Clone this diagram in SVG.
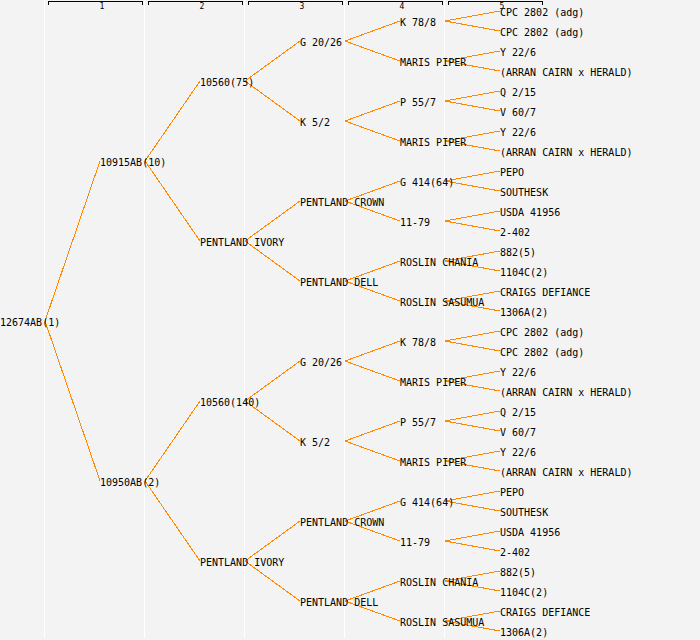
<svg xmlns="http://www.w3.org/2000/svg" width="700" height="640" viewBox="0 0 700 640">
<style>
.bg{fill:#f3f3f3}
.sep{stroke:#ffffff;stroke-width:1;fill:none}
.brk{stroke:#000;stroke-width:1;fill:none;shape-rendering:crispEdges}
.num{font-family:"DejaVu Sans Mono","Liberation Mono",monospace;font-size:8px;fill:#000;text-anchor:middle}
.lbl{font-family:"DejaVu Sans Mono","Liberation Mono",monospace;font-size:10px;fill:#000}
.con{stroke:#ff8800;stroke-width:1;fill:none;shape-rendering:crispEdges}
</style>
<rect class="bg" x="0" y="0" width="700" height="640"/>
<g id="grid">
<path class="sep" d="M44.5,0V638M144.5,0V638M244.5,0V638M344.5,0V638M444.5,0V638"/>
<path class="brk" d="M48.5,4.5V1.5H142.5V4.5M148.5,4.5V1.5H242.5V4.5M248.5,4.5V1.5H342.5V4.5M348.5,4.5V1.5H442.5V4.5M448.5,4.5V1.5H542.5V4.5"/>
<text class="num" x="102" y="9">1</text>
<text class="num" x="202" y="9">2</text>
<text class="num" x="302" y="9">3</text>
<text class="num" x="402" y="9">4</text>
<text class="num" x="502" y="9">5</text>
</g>
<g id="connectors" class="con">
<path d="M45,321L100,161M45,321L100,481"/>
<path d="M145,161L200,81M145,161L200,241M145,481L200,401M145,481L200,561"/>
<path d="M245,81L300,41M245,81L300,121M245,241L300,201M245,241L300,281M245,401L300,361M245,401L300,441M245,561L300,521M245,561L300,601"/>
<path d="M345,41L400,21M345,41L400,61M345,121L400,101M345,121L400,141M345,201L400,181M345,201L400,221M345,281L400,261M345,281L400,301M345,361L400,341M345,361L400,381M345,441L400,421M345,441L400,461M345,521L400,501M345,521L400,541M345,601L400,581M345,601L400,621"/>
<path d="M445,21L500,11M445,21L500,31M445,61L500,51M445,61L500,71M445,101L500,91M445,101L500,111M445,141L500,131M445,141L500,151M445,181L500,171M445,181L500,191M445,221L500,211M445,221L500,231M445,261L500,251M445,261L500,271M445,301L500,291M445,301L500,311"/>
<path d="M445,341L500,331M445,341L500,351M445,381L500,371M445,381L500,391M445,421L500,411M445,421L500,431M445,461L500,451M445,461L500,471M445,501L500,491M445,501L500,511M445,541L500,531M445,541L500,551M445,581L500,571M445,581L500,591M445,621L500,611M445,621L500,631"/>
</g>
<g id="n-12674AB" class="lbl"><text x="0" y="326">12674AB(1)</text></g>
<g id="n-10915AB" class="lbl"><text x="100" y="166">10915AB(10)</text></g>
<g id="n-10950AB" class="lbl"><text x="100" y="486">10950AB(2)</text></g>
<g id="n-10560-75" class="lbl"><text x="200" y="86">10560(75)</text></g>
<g id="n-pentland-ivory-1" class="lbl"><text x="200" y="246">PENTLAND IVORY</text></g>
<g id="n-10560-140" class="lbl"><text x="200" y="406">10560(140)</text></g>
<g id="n-pentland-ivory-2" class="lbl"><text x="200" y="566">PENTLAND IVORY</text></g>
<g id="n-g2026-1" class="lbl"><text x="300" y="46">G 20/26</text></g>
<g id="n-k52-1" class="lbl"><text x="300" y="126">K 5/2</text></g>
<g id="n-pcrown-1" class="lbl"><text x="300" y="206">PENTLAND CROWN</text></g>
<g id="n-pdell-1" class="lbl"><text x="300" y="286">PENTLAND DELL</text></g>
<g id="n-g2026-2" class="lbl"><text x="300" y="366">G 20/26</text></g>
<g id="n-k52-2" class="lbl"><text x="300" y="446">K 5/2</text></g>
<g id="n-pcrown-2" class="lbl"><text x="300" y="526">PENTLAND CROWN</text></g>
<g id="n-pdell-2" class="lbl"><text x="300" y="606">PENTLAND DELL</text></g>
<g id="n-k788-1" class="lbl"><text x="400" y="26">K 78/8</text></g>
<g id="n-maris-1" class="lbl"><text x="400" y="66">MARIS PIPER</text></g>
<g id="n-p557-1" class="lbl"><text x="400" y="106">P 55/7</text></g>
<g id="n-maris-2" class="lbl"><text x="400" y="146">MARIS PIPER</text></g>
<g id="n-g414-1" class="lbl"><text x="400" y="186">G 414(64)</text></g>
<g id="n-1179-1" class="lbl"><text x="400" y="226">11-79</text></g>
<g id="n-chania-1" class="lbl"><text x="400" y="266">ROSLIN CHANIA</text></g>
<g id="n-sasumua-1" class="lbl"><text x="400" y="306">ROSLIN SASUMUA</text></g>
<g id="n-k788-2" class="lbl"><text x="400" y="346">K 78/8</text></g>
<g id="n-maris-3" class="lbl"><text x="400" y="386">MARIS PIPER</text></g>
<g id="n-p557-2" class="lbl"><text x="400" y="426">P 55/7</text></g>
<g id="n-maris-4" class="lbl"><text x="400" y="466">MARIS PIPER</text></g>
<g id="n-g414-2" class="lbl"><text x="400" y="506">G 414(64)</text></g>
<g id="n-1179-2" class="lbl"><text x="400" y="546">11-79</text></g>
<g id="n-chania-2" class="lbl"><text x="400" y="586">ROSLIN CHANIA</text></g>
<g id="n-sasumua-2" class="lbl"><text x="400" y="626">ROSLIN SASUMUA</text></g>
<g id="n-l01" class="lbl"><text x="500" y="16">CPC 2802 (adg)</text></g>
<g id="n-l02" class="lbl"><text x="500" y="36">CPC 2802 (adg)</text></g>
<g id="n-l03" class="lbl"><text x="500" y="56">Y 22/6</text></g>
<g id="n-l04" class="lbl"><text x="500" y="76">(ARRAN CAIRN x HERALD)</text></g>
<g id="n-l05" class="lbl"><text x="500" y="96">Q 2/15</text></g>
<g id="n-l06" class="lbl"><text x="500" y="116">V 60/7</text></g>
<g id="n-l07" class="lbl"><text x="500" y="136">Y 22/6</text></g>
<g id="n-l08" class="lbl"><text x="500" y="156">(ARRAN CAIRN x HERALD)</text></g>
<g id="n-l09" class="lbl"><text x="500" y="176">PEPO</text></g>
<g id="n-l10" class="lbl"><text x="500" y="196">SOUTHESK</text></g>
<g id="n-l11" class="lbl"><text x="500" y="216">USDA 41956</text></g>
<g id="n-l12" class="lbl"><text x="500" y="236">2-402</text></g>
<g id="n-l13" class="lbl"><text x="500" y="256">882(5)</text></g>
<g id="n-l14" class="lbl"><text x="500" y="276">1104C(2)</text></g>
<g id="n-l15" class="lbl"><text x="500" y="296">CRAIGS DEFIANCE</text></g>
<g id="n-l16" class="lbl"><text x="500" y="316">1306A(2)</text></g>
<g id="n-l17" class="lbl"><text x="500" y="336">CPC 2802 (adg)</text></g>
<g id="n-l18" class="lbl"><text x="500" y="356">CPC 2802 (adg)</text></g>
<g id="n-l19" class="lbl"><text x="500" y="376">Y 22/6</text></g>
<g id="n-l20" class="lbl"><text x="500" y="396">(ARRAN CAIRN x HERALD)</text></g>
<g id="n-l21" class="lbl"><text x="500" y="416">Q 2/15</text></g>
<g id="n-l22" class="lbl"><text x="500" y="436">V 60/7</text></g>
<g id="n-l23" class="lbl"><text x="500" y="456">Y 22/6</text></g>
<g id="n-l24" class="lbl"><text x="500" y="476">(ARRAN CAIRN x HERALD)</text></g>
<g id="n-l25" class="lbl"><text x="500" y="496">PEPO</text></g>
<g id="n-l26" class="lbl"><text x="500" y="516">SOUTHESK</text></g>
<g id="n-l27" class="lbl"><text x="500" y="536">USDA 41956</text></g>
<g id="n-l28" class="lbl"><text x="500" y="556">2-402</text></g>
<g id="n-l29" class="lbl"><text x="500" y="576">882(5)</text></g>
<g id="n-l30" class="lbl"><text x="500" y="596">1104C(2)</text></g>
<g id="n-l31" class="lbl"><text x="500" y="616">CRAIGS DEFIANCE</text></g>
<g id="n-l32" class="lbl"><text x="500" y="636">1306A(2)</text></g>
</svg>
